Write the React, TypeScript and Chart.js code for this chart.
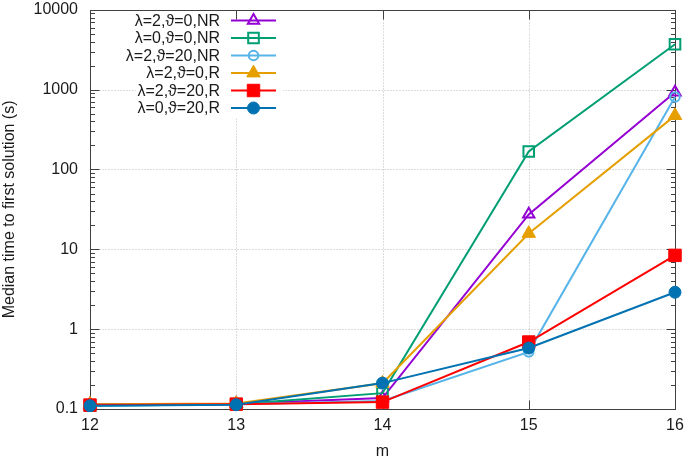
import React, { useEffect, useRef } from "react";
import { Chart, registerables } from "chart.js";

Chart.register(...registerables);

// ---- data ----
const mValues = [12, 13, 14, 15, 16];
const seriesLabels = [
  "λ=2,ϑ=0,NR",
  "λ=0,ϑ=0,NR",
  "λ=2,ϑ=20,NR",
  "λ=2,ϑ=0,R",
  "λ=2,ϑ=20,R",
  "λ=0,ϑ=20,R",
];
const lam2th0NR = [0.115, 0.116, 0.137, 27.4, 930];
const lam0th0NR = [0.11, 0.115, 0.158, 168, 3700];
const lam2th20NR = [0.11, 0.115, 0.126, 0.52, 810];
const lam2th0R = [0.115, 0.117, 0.21, 15.8, 473];
const lam2th20R = [0.112, 0.115, 0.122, 0.69, 8.4];
const lam0th20R = [0.11, 0.113, 0.211, 0.58, 2.9];
const seriesValues = [lam2th0NR, lam0th0NR, lam2th20NR, lam2th0R, lam2th20R, lam0th20R];
const yTickValues = [0.1, 1, 10, 100, 1000, 10000];

// ---- styles ----
const seriesColors = ["#9400d3", "#009e73", "#56b4e9", "#e69f00", "#ff0000", "#0072b2"];
const seriesShapes = ["triangle", "rect", "circle", "triangle", "rect", "circle"];
const seriesRadius = [6.5, 7.5, 4.8, 7.8, 8.8, 6];
const seriesFilled = [false, false, false, true, true, true];

const FONT = "Liberation Sans, Arial, sans-serif";
const FS = 16;
const TEXT = "#1a1a1a";
const AXIS = "#404040";

function drawMarker(ctx: CanvasRenderingContext2D, shape: string, x: number, y: number, r: number, color: string, filled: boolean) {
  ctx.beginPath();
  if (shape === "circle") {
    ctx.arc(x, y, r, 0, Math.PI * 2);
  } else if (shape === "rect") {
    const s = r * Math.SQRT1_2;
    ctx.rect(x - s, y - s, 2 * s, 2 * s);
  } else {
    let rad = 0;
    ctx.moveTo(x + Math.sin(rad) * r, y - Math.cos(rad) * r);
    rad += (2 * Math.PI) / 3;
    ctx.lineTo(x + Math.sin(rad) * r, y - Math.cos(rad) * r);
    rad += (2 * Math.PI) / 3;
    ctx.lineTo(x + Math.sin(rad) * r, y - Math.cos(rad) * r);
    ctx.closePath();
  }
  if (filled) {
    ctx.fillStyle = color;
    ctx.fill();
    ctx.lineWidth = 1;
  } else {
    ctx.lineWidth = 2;
  }
  ctx.strokeStyle = color;
  ctx.stroke();
}

const framePlugin = {
  id: "gnuframe",
  beforeDatasetsDraw(chart: any) {
    const { ctx, chartArea: a, scales } = chart;
    const xs = scales.x;
    const ys = scales.y;
    const L = Math.round(a.left) + 0.5;
    const R = Math.round(a.right) + 0.5;
    const T = Math.round(a.top) + 0.5;
    const B = Math.round(a.bottom) + 0.5;
    ctx.save();
    // grid
    ctx.strokeStyle = "#b8b8b8";
    ctx.lineWidth = 1;
    ctx.setLineDash([1, 2]);
    ctx.beginPath();
    for (const m of mValues.slice(1, -1)) {
      const px = Math.round(xs.getPixelForValue(m)) + 0.5;
      ctx.moveTo(px, T);
      ctx.lineTo(px, B);
    }
    for (const v of yTickValues.slice(1, -1)) {
      const py = Math.round(ys.getPixelForValue(v)) + 0.5;
      ctx.moveTo(L, py);
      ctx.lineTo(R, py);
    }
    ctx.stroke();
    ctx.setLineDash([]);
    // opaque key box
    ctx.fillStyle = "#ffffff";
    ctx.fillRect(136, T + 1, 147, 107);
    // ticks
    ctx.strokeStyle = AXIS;
    ctx.beginPath();
    for (const m of mValues) {
      const px = Math.round(xs.getPixelForValue(m)) + 0.5;
      ctx.moveTo(px, B);
      ctx.lineTo(px, B - 9);
      ctx.moveTo(px, T);
      ctx.lineTo(px, T + 9);
    }
    for (let d = -1; d <= 4; d++) {
      for (let k = 1; k <= 9; k++) {
        const v = k * Math.pow(10, d);
        if (v < 0.1 || v > 10000) continue;
        const py = Math.round(ys.getPixelForValue(v)) + 0.5;
        const len = k === 1 ? 9 : 4.5;
        ctx.moveTo(L, py);
        ctx.lineTo(L + len, py);
        ctx.moveTo(R, py);
        ctx.lineTo(R - len, py);
      }
    }
    ctx.stroke();
    // frame
    ctx.strokeRect(L, T, R - L, B - T);
    ctx.restore();
  },
  afterDatasetsDraw(chart: any) {
    const { ctx } = chart;
    ctx.save();
    ctx.font = `${FS}px ${FONT}`;
    ctx.textAlign = "right";
    ctx.textBaseline = "middle";
    seriesLabels.forEach((label, i) => {
      const y = 20.5 + i * 17.5;
      ctx.fillStyle = TEXT;
      ctx.fillText(label, 220, y + 1);
      ctx.strokeStyle = seriesColors[i];
      ctx.lineWidth = 2;
      ctx.beginPath();
      ctx.moveTo(231, y);
      ctx.lineTo(276, y);
      ctx.stroke();
      drawMarker(ctx, seriesShapes[i], 253.5, y, seriesRadius[i], seriesColors[i], seriesFilled[i]);
    });
    ctx.restore();
  },
};

function zeroPadding(s: any) {
  s.paddingTop = 0;
  s.paddingBottom = 0;
  s.paddingLeft = 0;
  s.paddingRight = 0;
}

export default function App() {
  const canvasRef = useRef<HTMLCanvasElement | null>(null);

  useEffect(() => {
    const canvas = canvasRef.current;
    if (!canvas) return;
    const datasets = seriesLabels.map((label, i) => ({
      label,
      data: mValues.map((m, j) => ({ x: m, y: seriesValues[i][j] })),
      borderColor: seriesColors[i],
      backgroundColor: seriesFilled[i] ? seriesColors[i] : "rgba(0,0,0,0)",
      borderWidth: 2,
      pointStyle: seriesShapes[i] as any,
      pointRadius: seriesRadius[i],
      pointBorderWidth: seriesFilled[i] ? 1 : 2,
      pointBorderColor: seriesColors[i],
      pointBackgroundColor: seriesFilled[i] ? seriesColors[i] : "rgba(0,0,0,0)",
      tension: 0,
      fill: false,
      clip: false as any,
      order: seriesLabels.length - i,
    }));
    const chart = new Chart(canvas, {
      type: "line",
      data: { datasets },
      plugins: [framePlugin],
      options: {
        animation: false,
        responsive: false,
        devicePixelRatio: 1,
        layout: { padding: { top: 9, right: 10, left: 0, bottom: 0 } },
        plugins: { legend: { display: false }, tooltip: { enabled: false } },
        scales: {
          x: {
            type: "linear",
            min: 12,
            max: 16,
            afterBuildTicks: (s: any) => {
              s.ticks = mValues.map((v) => ({ value: v }));
            },
            afterFit: (s: any) => {
              s.height = 49;
              zeroPadding(s);
            },
            ticks: {
              autoSkip: false,
              maxRotation: 0,
              padding: 7,
              color: TEXT,
              font: { family: FONT, size: FS },
              callback: (v: any) => String(v),
            },
            grid: { display: false, drawTicks: false },
            border: { display: false },
            title: {
              display: true,
              text: "m",
              color: TEXT,
              font: { family: FONT, size: FS, lineHeight: 0.8 },
              padding: { top: 0, bottom: 0 },
            },
          },
          y: {
            type: "logarithmic",
            min: 0.1,
            max: 10000,
            afterBuildTicks: (s: any) => {
              s.ticks = yTickValues.map((v) => ({ value: v }));
            },
            afterFit: (s: any) => {
              s.width = 90;
              zeroPadding(s);
            },
            ticks: {
              autoSkip: false,
              padding: 12,
              color: TEXT,
              font: { family: FONT, size: FS },
              callback: (v: any) => String(v),
            },
            grid: { display: false, drawTicks: false },
            border: { display: false },
            title: {
              display: true,
              text: "Median time to first solution (s)",
              color: TEXT,
              font: { family: FONT, size: FS, lineHeight: 0.8 },
              padding: { top: 3, bottom: 0 },
            },
          },
        },
      },
    });
    return () => chart.destroy();
  }, []);

  return (
    <div style={{ position: "absolute", left: 0, top: 0, width: 685, height: 458, background: "#fff" }}>
      <canvas ref={canvasRef} width={685} height={458} style={{ display: "block" }} />
    </div>
  );
}
